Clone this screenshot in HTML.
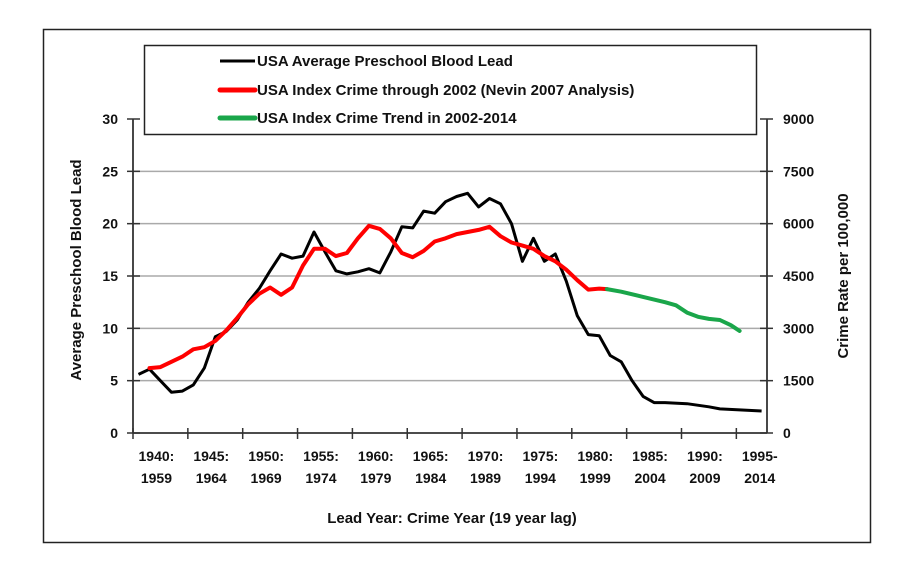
<!DOCTYPE html>
<html><head><meta charset="utf-8"><style>
body{margin:0;background:#fff;}
svg{display:block;font-family:"Liberation Sans",sans-serif;font-weight:bold;}
</style></head><body>
<svg width="918" height="582" viewBox="0 0 918 582">
<rect x="43.5" y="29.5" width="827" height="513" fill="#fff" stroke="#222" stroke-width="1.5"/>
<g id="grid"></g><g id="axes"></g><g id="series"></g>
<g>
<rect x="144.5" y="45.5" width="612" height="89" fill="#fff" stroke="#222" stroke-width="1.5"/>
<line x1="220" y1="61" x2="255" y2="61" stroke="#000" stroke-width="3"/>
<text x="257" y="66" font-size="15" fill="#111">USA Average Preschool Blood Lead</text>
<line x1="220" y1="90" x2="255" y2="90" stroke="#f00" stroke-width="5" stroke-linecap="round"/>
<text x="257" y="95" font-size="15" fill="#111">USA Index Crime through 2002 (Nevin 2007 Analysis)</text>
<line x1="220" y1="118" x2="255" y2="118" stroke="#1aa64a" stroke-width="5" stroke-linecap="round"/>
<text x="257" y="123" font-size="15" fill="#111">USA Index Crime Trend in 2002-2014</text>
</g>
<text transform="translate(81,270) rotate(-90)" text-anchor="middle" font-size="15" fill="#111">Average Preschool Blood Lead</text>
<text transform="translate(848,276) rotate(-90)" text-anchor="middle" font-size="15" fill="#111">Crime Rate per 100,000</text>
<text x="452" y="523" text-anchor="middle" font-size="15" fill="#111">Lead Year: Crime Year (19 year lag)</text>
</svg>
<script>
const leftTicks=[0,5,10,15,20,25,30];
const rightTicks=[0,1500,3000,4500,6000,7500,9000];
const xTickYears=[1940,1945,1950,1955,1960,1965,1970,1975,1980,1985,1990,1995];
const xTickLine1=["1940:","1945:","1950:","1955:","1960:","1965:","1970:","1975:","1980:","1985:","1990:","1995-"];
const xTickLine2=["1959","1964","1969","1974","1979","1984","1989","1994","1999","2004","2009","2014"];
const leadYears=[1940.5,1941.5,1942.5,1943.5,1944.5,1945.5,1946.5,1947.5,1948.5,1949.5,1950.5,1951.5,1952.5,1953.5,1954.5,1955.5,1956.5,1957.5,1958.5,1959.5,1960.5,1961.5,1962.5,1963.5,1964.5,1965.5,1966.5,1967.5,1968.5,1969.5,1970.5,1971.5,1972.5,1973.5,1974.5,1975.5,1976.5,1977.5,1978.5,1979.5,1980.5,1981.5,1982.5,1983.5,1984.5,1985.5,1986.5,1987.5,1988.5,1990.5,1992.5,1993.5,1997.3];
const leadValues=[5.6,6.1,5.0,3.9,4.0,4.6,6.2,9.2,9.7,10.8,12.5,13.8,15.5,17.1,16.7,16.9,19.2,17.3,15.5,15.2,15.4,15.7,15.3,17.3,19.7,19.6,21.2,21.0,22.1,22.6,22.9,21.6,22.4,21.9,20.0,16.4,18.6,16.4,17.1,14.5,11.2,9.4,9.3,7.4,6.8,5.0,3.5,2.9,2.9,2.8,2.5,2.3,2.1];
const crimeYears=[1941.5,1942.5,1943.5,1944.5,1945.5,1946.5,1947.5,1948.5,1949.5,1950.5,1951.5,1952.5,1953.5,1954.5,1955.5,1956.5,1957.5,1958.5,1959.5,1960.5,1961.5,1962.5,1963.5,1964.5,1965.5,1966.5,1967.5,1968.5,1969.5,1970.5,1971.5,1972.5,1973.5,1974.5,1975.5,1976.5,1977.5,1978.5,1979.5,1980.5,1981.5,1982.5,1983.2];
const crimeValues=[1860,1890,2040,2190,2400,2460,2640,2940,3300,3690,3990,4170,3960,4170,4800,5280,5280,5070,5160,5580,5940,5850,5580,5160,5040,5220,5490,5580,5700,5760,5820,5910,5640,5460,5370,5280,5070,4920,4680,4380,4110,4140,4125];
const trendYears=[1983.2,1984.5,1986.5,1988.5,1989.5,1990.5,1991.5,1992.5,1993.5,1994.5,1995.3];
const trendValues=[4125,4050,3900,3750,3660,3450,3330,3270,3240,3090,2925];

const X0=133,X1=767,Y0=433,Y1=119;
const xs=y=>X0+(y-1940)*10.97;
const yl=v=>Y0-(v/30)*(Y0-Y1);
const yr=v=>Y0-(v/9000)*(Y0-Y1);
const NS="http://www.w3.org/2000/svg";
function mk(tag,attrs,parent,txt){const e=document.createElementNS(NS,tag);for(const k in attrs)e.setAttribute(k,attrs[k]);if(txt!==undefined)e.textContent=txt;parent.appendChild(e);return e;}
const grid=document.getElementById('grid'),axes=document.getElementById('axes'),series=document.getElementById('series');
leftTicks.forEach((t,i)=>{
 const y=yl(t);
 if(t>0&&t<30){const g=mk('line',{x1:X0,y1:y,x2:X1,y2:y,stroke:'#aaa','stroke-width':1.5},grid);
 
 }
 const tk=mk('line',{x1:127,y1:y,x2:140,y2:y,stroke:'#333','stroke-width':1.5},axes);
 
 
 const lb=mk('text',{x:118,y:y+5,'text-anchor':'end','font-size':14,fill:'#111'},axes,String(t));
 
 
});
rightTicks.forEach(t=>{
 const y=yr(t);
 const tk=mk('line',{x1:760,y1:y,x2:773,y2:y,stroke:'#333','stroke-width':1.5},axes);
 
 
 const lb=mk('text',{x:783,y:y+5,'font-size':14,fill:'#111'},axes,String(t));
 
 
});
xTickYears.forEach((yv,i)=>{
 const x=xs(yv);
 const tk=mk('line',{x1:x,y1:428,x2:x,y2:439,stroke:'#333','stroke-width':1.5},axes);
 
 
 const x2=xs(yv+2.5);
 const a=mk('text',{x:x2-4,y:461,'text-anchor':'middle','font-size':14,fill:'#111'},axes,xTickLine1[i]);
 
 
 const b=mk('text',{x:x2-4,y:483,'text-anchor':'middle','font-size':14,fill:'#111'},axes,xTickLine2[i]);
 
 
});
const la=mk('line',{x1:X0,y1:Y1,x2:X0,y2:Y0,stroke:'#333','stroke-width':1.8},axes);


const ra=mk('line',{x1:X1,y1:Y1,x2:X1,y2:Y0,stroke:'#333','stroke-width':1.8},axes);


const xa=mk('line',{x1:X0,y1:Y0,x2:X1,y2:Y0,stroke:'#333','stroke-width':1.8},axes);


function pts(xsArr,vals,f){return xsArr.map((x,i)=>xs(x).toFixed(1)+','+f(vals[i]).toFixed(1)).join(' ');}
const p1=mk('polyline',{points:pts(leadYears,leadValues,yl),fill:'none',stroke:'#000','stroke-width':3,'stroke-linejoin':'round'},series);


const p2=mk('polyline',{points:pts(crimeYears,crimeValues,yr),fill:'none',stroke:'#f00','stroke-width':4,'stroke-linejoin':'round','stroke-linecap':'round'},series);


const p3=mk('polyline',{points:pts(trendYears,trendValues,yr),fill:'none',stroke:'#1aa64a','stroke-width':4,'stroke-linejoin':'round','stroke-linecap':'round'},series);


</script>
</body></html>
